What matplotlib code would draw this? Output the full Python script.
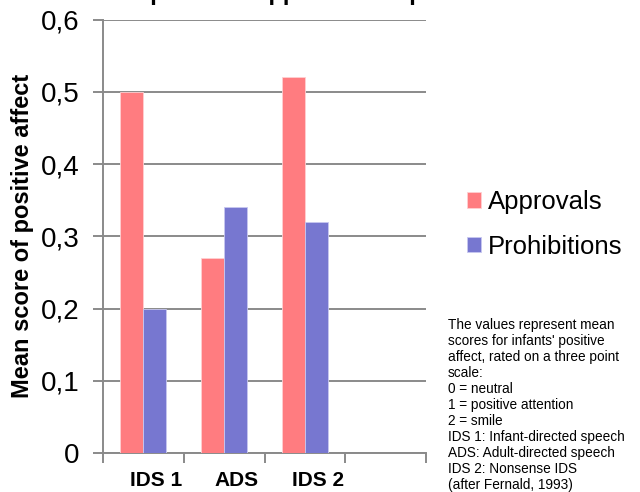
import numpy as np
import matplotlib.pyplot as plt

plt.rcParams['font.family'] = ['Liberation Sans', 'DejaVu Sans']

# data
categories = ['IDS 1', 'ADS', 'IDS 2', '']
approvals = [0.5, 0.27, 0.52, np.nan]
prohibitions = [0.2, 0.34, 0.32, np.nan]
yticks = [0, 0.1, 0.2, 0.3, 0.4, 0.5, 0.6]
note = ("The values represent mean\n"
        "scores for infants' positive\n"
        "affect, rated on a three point\n"
        "scale:\n"
        "0 = neutral\n"
        "1 = positive attention\n"
        "2 = smile\n"
        "IDS 1: Infant-directed speech\n"
        "ADS: Adult-directed speech\n"
        "IDS 2: Nonsense IDS\n"
        "(after Fernald, 1993)")


def main():
    fig = plt.figure(figsize=(6.4, 4.92), dpi=100)
    ax = fig.add_axes([103 / 640, 1 - 453 / 492, 323 / 640, 433.5 / 492])

    x = np.arange(len(categories))
    w = 0.285
    ax.bar(x + 0.5 - w, approvals, w, align='edge', color='#FF7C80',
           edgecolor='#FFD0D2', linewidth=0.6, label='Approvals', zorder=3)
    ax.bar(x + 0.5, prohibitions, w, align='edge', color='#7777D0',
           edgecolor='#C8C8F0', linewidth=0.6, label='Prohibitions', zorder=3)

    ax.set_xlim(0, len(categories))
    ax.set_ylim(0, 0.6)
    ax.set_yticks(yticks)
    ax.set_yticklabels([('%.1f' % v).replace('.', ',') if v else '0' for v in yticks],
                       fontsize=20)
    ax.yaxis.grid(True, color='#8A8A8A', linewidth=1.4, zorder=0)

    # category ticks sit on the boundaries, labels a bit right of the middle
    ax.set_xticks(np.arange(len(categories) + 1))
    ax.set_xticklabels([])
    ax.set_xticks(x + 0.66, minor=True)
    ax.set_xticklabels(categories, minor=True, fontsize=15, fontweight='bold')
    ax.tick_params(axis='x', which='minor', length=0, pad=13)
    ax.tick_params(axis='x', which='major', length=7, width=1.4, color='#8A8A8A')
    ax.tick_params(axis='y', length=7, width=1.4, color='#8A8A8A', pad=10)

    for s in ['top', 'right']:
        ax.spines[s].set_visible(False)
    for s in ['left', 'bottom']:
        ax.spines[s].set_color('#8A8A8A')
        ax.spines[s].set_linewidth(1.4)

    ax.set_ylabel('Mean score of positive affect', fontsize=17,
                  fontweight='bold', va='center')
    ax.yaxis.set_label_coords(-(103 - 23) / 323, 0.5)

    fig.text(0.5, 1.0, 'Response to approval and prohibition', ha='center',
             va='baseline', fontsize=17, fontweight='bold')

    fig.legend(loc='upper left', bbox_to_anchor=(467 / 640, 1 - 190 / 492),
               frameon=False, fontsize=18.5, handlelength=0.55, handleheight=0.55,
               handletextpad=0.25, labelspacing=0.8, borderaxespad=0,
               borderpad=0)

    fig.text(448 / 640, 1 - 318 / 492, note, ha='left', va='top',
             fontsize=9.8, linespacing=1.185)

    fig.savefig('out.png', dpi=100)


if __name__ == '__main__':
    main()
